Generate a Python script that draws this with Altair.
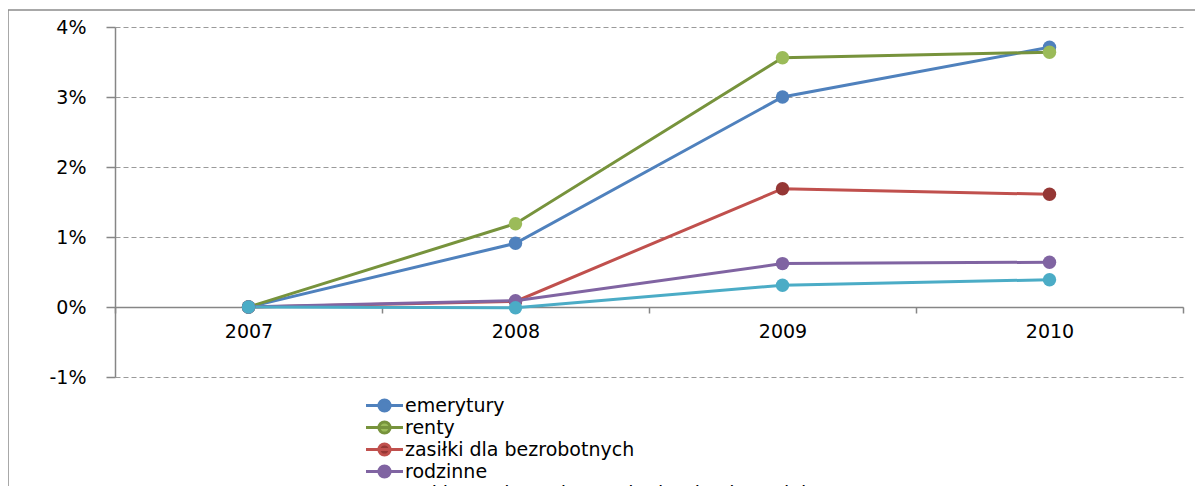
import altair as alt
import pandas as pd

years = ["2007", "2008", "2009", "2010"]
series = [
    "emerytury",
    "renty",
    "zasiłki dla bezrobotnych",
    "rodzinne",
    "wykluczenie społeczne i mieszkania socjalne",
]
# values in percent
emerytury = [0.0, 0.91, 3.00, 3.71]
renty = [0.0, 1.19, 3.56, 3.64]
zasilki = [0.0, 0.08, 1.69, 1.61]
rodzinne = [0.0, 0.09, 0.62, 0.64]
wykluczenie = [0.0, -0.01, 0.31, 0.39]

line_colors = ["#4F81BD", "#77933C", "#C0504D", "#8064A2", "#4BACC6"]
marker_colors = ["#4F81BD", "#9BBB59", "#953735", "#8064A2", "#4BACC6"]
y_ticks = [-0.01, 0.0, 0.01, 0.02, 0.03, 0.04]

rows = []
for name, vals in zip(series, [emerytury, renty, zasilki, rodzinne, wykluczenie]):
    for yr, v in zip(years, vals):
        rows.append({"year": yr, "series": name, "value": v / 100.0})
df = pd.DataFrame(rows)

FONT = "DejaVu Sans"
GRAY = "#868686"
FS = 19

sym = ("M-2.64,0L2.64,0"
       "M-0.8,0C-0.8,-0.44,-0.44,-0.8,0,-0.8C0.44,-0.8,0.8,-0.44,0.8,0"
       "C0.8,0.44,0.44,0.8,0,0.8C-0.44,0.8,-0.8,0.44,-0.8,0Z")
legend = alt.Legend(
    title=None, orient="none", legendX=260, legendY=369,
    symbolType=sym, symbolSize=196, symbolStrokeWidth=3,
    labelFontSize=FS, labelFont=FONT, labelColor="black",
    labelLimit=800, rowPadding=-5.3, padding=0, labelOffset=11,
)

x_enc = alt.X(
    "year:O", title=None, sort=years, bandPosition=0.5,
    scale=alt.Scale(type="band", domain=years, paddingInner=0, paddingOuter=0),
    axis=alt.Axis(
        tickBand="extent", offset=-70, grid=False, labelAngle=0,
        domainColor=GRAY, domainWidth=1.5, tickColor=GRAY, tickWidth=1.5,
        tickSize=6, labelFont=FONT, labelFontSize=FS, labelColor="black",
        labelPadding=9,
    ),
)
y_enc = alt.Y(
    "value:Q", title=None,
    scale=alt.Scale(domain=[-0.01, 0.04], nice=False, zero=False),
    axis=alt.Axis(
        values=y_ticks, format=".0%",
        labelExpr="replace(datum.label, '\u2212', '-')",
        domainColor=GRAY, domainWidth=1.5,
        tickColor=GRAY, tickWidth=1.5, tickSize=9, labelPadding=20,
        labelFont=FONT, labelFontSize=FS, labelColor="black",
        gridColor="#9a9a9a", gridDash=[5, 3], gridWidth=1,
    ),
)

frame = alt.Chart(alt.Data(values=[{}])).mark_rect(
    filled=False, stroke="#8c8c8c", strokeWidth=1.5
).encode(
    x=alt.value(-107), x2=alt.value(1150), y=alt.value(-17), y2=alt.value(600)
)

lines = alt.Chart(df).mark_line(strokeWidth=3).encode(
    x=x_enc, y=y_enc,
    stroke=alt.Stroke("series:N", sort=series,
                      scale=alt.Scale(domain=series, range=line_colors),
                      legend=legend),
)

points = alt.Chart(df).mark_circle(size=180, opacity=1).encode(
    x=x_enc, y=y_enc,
    fill=alt.Fill("series:N", sort=series,
                  scale=alt.Scale(domain=series, range=marker_colors),
                  legend=legend),
)

chart = alt.layer(frame, lines, points).properties(
    width=1068, height=350,
    padding={"left": 107, "top": 19, "right": 12, "bottom": 109},
    autosize=alt.AutoSizeParams(type="none"),
).configure_view(stroke=None)

chart.save("out.html", embed_options={"renderer": "svg", "actions": False})
